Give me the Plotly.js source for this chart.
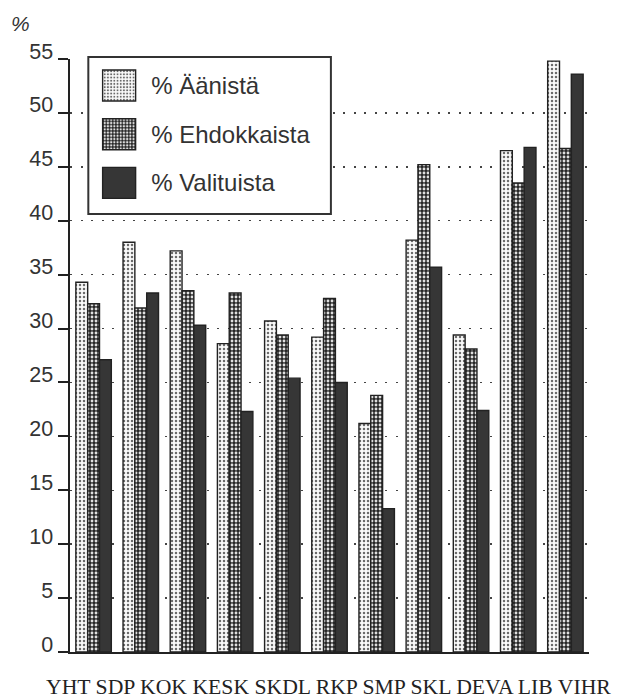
<!DOCTYPE html>
<html>
<head>
<meta charset="utf-8">
<script src="https://cdn.plot.ly/plotly-3.0.1.min.js"></script>
<style>
html,body{margin:0;padding:0;background:#fff;}
#chart{width:622px;height:700px;}
</style>
</head>
<body>
<div id="chart"></div>
<script>
var categories = ["YHT", "SDP", "KOK", "KESK", "SKDL", "RKP", "SMP", "SKL", "DEVA", "LIB", "VIHR"];
var seriesNames = ["% Äänistä", "% Ehdokkaista", "% Valituista"];
var aanista     = [34.3, 38.0, 37.2, 28.6, 30.7, 29.2, 21.2, 38.2, 29.4, 46.5, 54.8];
var ehdokkaista = [32.3, 31.9, 33.5, 33.3, 29.4, 32.8, 23.8, 45.2, 28.1, 43.5, 46.7];
var valituista  = [27.1, 33.3, 30.3, 22.3, 25.4, 25.0, 13.3, 35.7, 22.4, 46.8, 53.6];
var yTicks = [0, 5, 10, 15, 20, 25, 30, 35, 40, 45, 50, 55];
var yUnitLabel = "%";

var lineStyle = {color: "#222", width: 1.4};
var traces = [
  {
    type: "bar", name: seriesNames[0], x: categories, y: aanista,
    legendgroup: "a", cliponaxis: false,
    marker: {color: "#fafafa", line: lineStyle,
      pattern: {shape: ".", bgcolor: "#fafafa", fgcolor: "#6a6a6a", size: 4, solidity: 0.3}}
  },
  {
    type: "bar", name: seriesNames[1], x: categories, y: ehdokkaista,
    legendgroup: "b", cliponaxis: false,
    marker: {color: "#262626", line: lineStyle,
      pattern: {shape: ".", bgcolor: "#262626", fgcolor: "#e0e0e0", size: 4, solidity: 0.4}}
  },
  {
    type: "bar", name: seriesNames[2], x: categories, y: valituista,
    legendgroup: "c", cliponaxis: false,
    marker: {color: "#363636", line: lineStyle}
  }
];

var layout = {
  width: 622, height: 700,
  margin: {l: 70, r: 33, t: 59, b: 48},
  paper_bgcolor: "#fff", plot_bgcolor: "#fff",
  font: {family: "Liberation Sans, Arial, sans-serif", color: "#333"},
  barmode: "group", bargap: 0.248, bargroupgap: 0,
  showlegend: true,
  legend: {
    x: 0.033, y: 0.994, xanchor: "left", yanchor: "top",
    bgcolor: "rgba(0,0,0,0)", borderwidth: 0,
    font: {family: "Liberation Sans, Arial, sans-serif", size: 24, color: "#333"},
    itemwidth: 54, tracegroupgap: 14.5, traceorder: "grouped"
  },
  xaxis: {
    type: "category", range: [-0.5, 10.5], fixedrange: true,
    showline: true, linecolor: "#222", linewidth: 2,
    ticks: "", showticklabels: false, showgrid: false, zeroline: false
  },
  yaxis: {
    range: [0, 55], tickmode: "array", tickvals: yTicks, ticktext: yTicks.map(String),
    fixedrange: true,
    showline: true, linecolor: "#222", linewidth: 2.5,
    ticks: "outside", ticklen: 10, tickwidth: 2, tickcolor: "#222",
    tickfont: {family: "Liberation Sans, Arial, sans-serif", size: 21.5, color: "#333"},
    ticklabelshift: -8, ticklabelstandoff: 0,
    showgrid: true, gridcolor: "#444", gridwidth: 1.5, griddash: "2px,8.5px",
    zeroline: false
  },
  shapes: [{
    type: "rect", xref: "paper", yref: "paper",
    x0: 0.0353, x1: 0.5027, y0: 0.7385, y1: 1.0034,
    line: {color: "#333", width: 2}, fillcolor: "#fff", layer: "above"
  }],
  annotations: [
    {
      text: yUnitLabel, xref: "paper", yref: "paper",
      x: -0.0954, y: 1.0596, xanchor: "center", yanchor: "middle", showarrow: false,
      font: {family: "Liberation Sans, Arial, sans-serif", size: 21, color: "#333", style: "italic"}
    },
    {
      text: categories.join(" "), xref: "paper", yref: "paper",
      x: -0.0475, y: -0.0805, xanchor: "left", yanchor: "bottom", showarrow: false,
      borderpad: 0,
      font: {family: "Liberation Serif, Times New Roman, serif", size: 21.7, color: "#222"}
    }
  ]
};

function enlargeLegendSwatches() {
  var items = document.querySelectorAll("#chart .legend g.traces");
  items.forEach(function (it) {
    var txt = it.querySelector("text.legendtext");
    var paths = it.querySelectorAll(".legendpoints path");
    paths.forEach(function (p) {
      p.removeAttribute("clip-path");
      p.setAttribute("d", "M16.5,15.5H-16.5V-15.5H16.5Z");
      p.setAttribute("transform", "translate(0,0)");
      if (txt) {
        var tb = txt.getBoundingClientRect();
        var pb = p.getBoundingClientRect();
        var dx = (tb.left - 32) - (pb.left + pb.width / 2);
        var dy = (tb.top + tb.height / 2) - (pb.top + pb.height / 2);
        p.setAttribute("transform", "translate(" + dx.toFixed(2) + "," + dy.toFixed(2) + ")");
      }
    });
  });
}

Plotly.newPlot("chart", traces, layout, {displayModeBar: false, staticPlot: true}).then(function (gd) {
  enlargeLegendSwatches();
});
</script>
</body>
</html>
